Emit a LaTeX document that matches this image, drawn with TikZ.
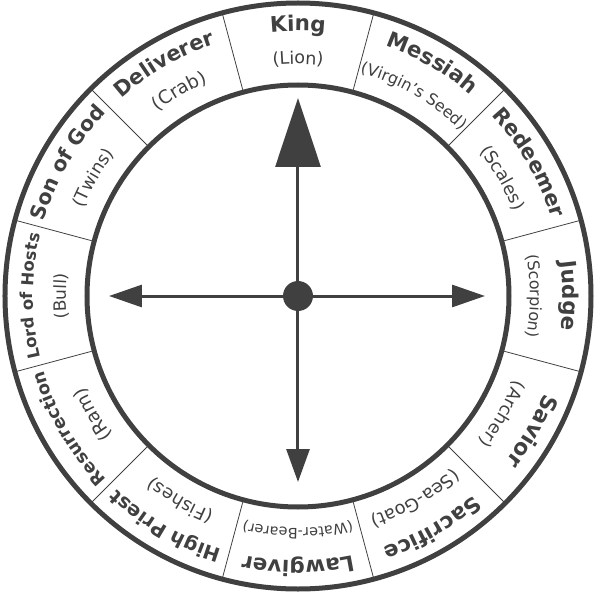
\documentclass[tikz,border=0pt]{standalone}
\usepackage{fontspec}
\setmainfont{DejaVu Sans}
\newfontfamily\thinfont{DejaVu Sans}
\usetikzlibrary{arrows.meta,decorations.text}
\definecolor{wheelgray}{HTML}{404040}

\begin{document}
\begin{tikzpicture}[
        x=1pt, y=1pt,
        ring/.style={draw=wheelgray, line width=5pt},
        spoke/.style={draw=wheelgray, line width=0.8pt},
        axis/.style={wheelgray, line width=3pt},
        hubdot/.style={circle, fill=wheelgray, minimum size=30pt, inner sep=0pt},
        wedgetext/.style={decorate, decoration={text along path, text align=center, text color=wheelgray}}
      ]
        \useasboundingbox (-298,-304) rectangle (302,296);

        \draw[ring] (0,0) circle[radius=293];
        \draw[ring] (0,0) circle[radius=211];
        \foreach \a in {15,45,...,345}
          \draw[spoke] (\a:211) -- (\a:293);

        % names on the outer track, signs under them
        \foreach \a/\name/\nsize/\sign/\ssize in {
            90/King/21.5/(Lion)/17.5,
            60/Messiah/21.5/(Virgin’s Seed)/16,
            30/Redeemer/21/(Scales)/17.5,
            0/Judge/21.5/(Scorpion)/16,
            -30/Savior/22/(Archer)/17.5,
            -60/Sacrifice/21.5/(Sea-Goat)/18,
            -90/Lawgiver/21.5/(Water-Bearer)/14.5,
            -120/High Priest/19.5/(Fishes)/18,
            -150/Resurrection/17.5/(Ram)/18.5,
            180/Lord of Hosts/16.5/(Bull)/17,
            150/Son of God/20.5/(Twins)/17.5,
            120/Deliverer/21/(Crab)/18.5}
        {
          \path[wedgetext, decoration={text/.expanded={|\noexpand\bfseries\noexpand\fontsize{\nsize}{\nsize}\noexpand\selectfont|\name}}]
            ({\a+25}:265) arc[start angle=\a+25, end angle=\a-25, radius=265];
          \path[wedgetext, decoration={text/.expanded={|\noexpand\thinfont\noexpand\fontsize{\ssize}{\ssize}\noexpand\selectfont|\sign}}]
            ({\a+25}:232) arc[start angle=\a+25, end angle=\a-25, radius=232];
        }

        \node (hub) [hubdot] at (0,0) {};
        \coordinate (north) at (0,198);
        \coordinate (south) at (0,-186);
        \coordinate (west) at (-189,0);
        \coordinate (east) at (187,0);

        \draw[axis, -{Triangle[length=69pt, width=45pt]}] (hub) -- (north);
        \draw[axis, -{Triangle[length=33pt, width=23pt]}] (hub) -- (south);
        \draw[axis, -{Triangle[length=33pt, width=22pt]}] (hub) -- (west);
        \draw[axis, -{Triangle[length=33pt, width=22pt]}] (hub) -- (east);

      \end{tikzpicture}
\end{document}
